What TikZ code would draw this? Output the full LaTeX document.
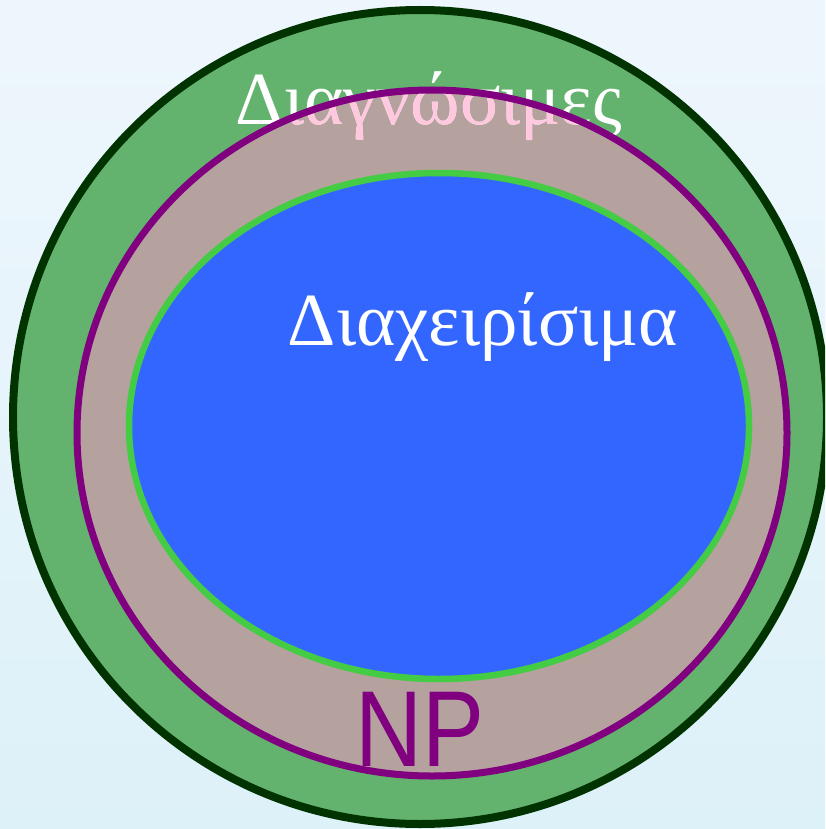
\documentclass[tikz,border=0pt]{standalone}
\usepackage{fontspec}
\setmainfont{Liberation Serif}
\newfontfamily\npfont[FakeStretch=0.86]{Liberation Sans}
\definecolor{bgtop}{HTML}{EEF6FD}
\definecolor{bgbot}{HTML}{DDF1F8}
\definecolor{ringgreen}{HTML}{63B26E}
\definecolor{ringedge}{HTML}{003300}
\definecolor{tan}{HTML}{B5A29F}
\definecolor{npurple}{HTML}{800080}
\definecolor{pblue}{HTML}{3366FF}
\definecolor{pgreen}{HTML}{44CC44}
\definecolor{pinktext}{HTML}{FFC8DE}
\tikzset{
  biglabel/.style={anchor=base, inner sep=0pt, font=\rmfamily\fontsize{75}{75}\selectfont},
  nplabel/.style={anchor=base, inner sep=0pt, text=npurple, font=\npfont\fontsize{108}{108}\selectfont}
}
\begin{document}
\begin{tikzpicture}[x=1pt,y=-1pt]
\useasboundingbox (0,0) rectangle (825,829);
\clip (0,0) rectangle (825,829);
\shade[top color=bgtop, bottom color=bgbot] (0,0) rectangle (825,829);
\draw[fill=ringgreen, draw=ringedge, line width=8pt] (420,417) circle [radius=407];
\fill[tan] (432,433) ellipse [x radius=355, y radius=343];
\node[biglabel, text=white] (diag) at (429,125) {Διαγνώσιμες};
\begin{scope}
  \clip (432,433) ellipse [x radius=355, y radius=343];
  \node[biglabel, text=pinktext] (diagp) at (429,125) {Διαγνώσιμες};
\end{scope}
\draw[npurple, line width=7pt] (432,433) ellipse [x radius=355, y radius=343];
\draw[fill=pblue, draw=pgreen, line width=6.5pt] (439,426) ellipse [x radius=310, y radius=253];
\node[biglabel, text=white] (diax) at (483,345) {Διαχειρίσιμα};
\node[nplabel] (np) at (420,766) {NP};
\end{tikzpicture}
\end{document}
